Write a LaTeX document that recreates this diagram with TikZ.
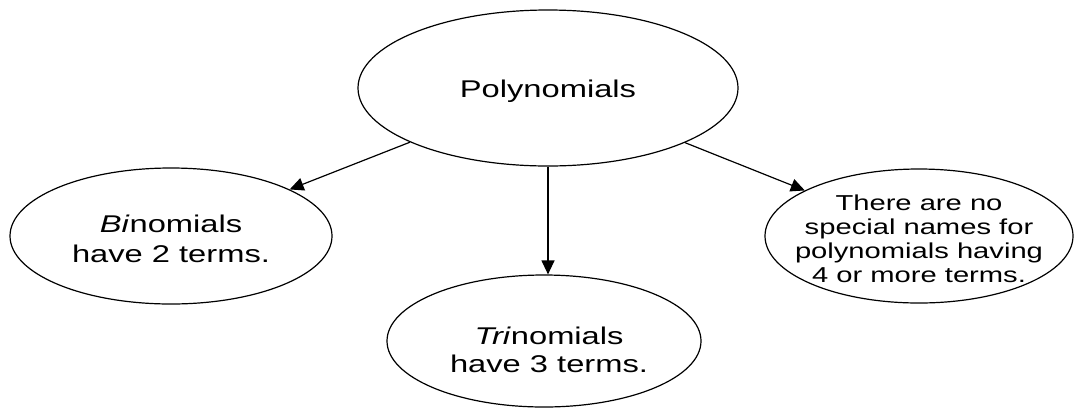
\documentclass[tikz,border=0pt]{standalone}
\usepackage{fontspec}
\setmainfont[FakeStretch=1.35]{Liberation Sans}
\usetikzlibrary{shapes.geometric,arrows.meta}

\begin{document}
\begin{tikzpicture}[x=0.5pt,y=-0.5pt,
    bubble/.style={draw, ellipse, line width=0.6pt, inner sep=0pt},
    bubbletext/.style={align=center, inner sep=0pt, font=\fontsize{12.1}{15}\selectfont},
    link/.style={-{Triangle[length=7pt,width=6.5pt]}, line width=0.6pt}]
  % Fix the picture size (pixel units of the layout)
  \useasboundingbox (0,0) rectangle (1075,408);

  % The four ellipses
  \node[bubble, minimum width=190pt, minimum height=78pt] (Poly) at (548,88) {};
  \node[bubble, minimum width=161pt, minimum height=68pt] (Bi) at (171,236) {};
  \node[bubble, minimum width=157pt, minimum height=66pt] (Tri) at (544,341) {};
  \node[bubble, minimum width=154pt, minimum height=67pt] (More) at (919,236) {};

  % Texts inside the ellipses
  \node[bubbletext] (PolyText) at (548,91) {Polynomials};
  \node[bubbletext] (BiText) at (171,239) {\textit{Bi}nomials\\have 2 terms.};
  \node[bubbletext, font=\fontsize{12.1}{13.8}\selectfont] (TriText) at (549,350)
    {\textit{Tri}nomials\\have 3 terms.};
  \node[bubbletext, font=\fontsize{10.8}{12}\selectfont] (MoreText) at (919,239)
    {There are no\\special names for\\polynomials having\\4 or more terms.};

  % Arrows from the top ellipse
  \draw[link] (Poly) -- (Bi);
  \draw[link] (Poly.south) -- (Poly.south |- Tri.north);
  \draw[link] (Poly) -- (More);
\end{tikzpicture}
\end{document}
